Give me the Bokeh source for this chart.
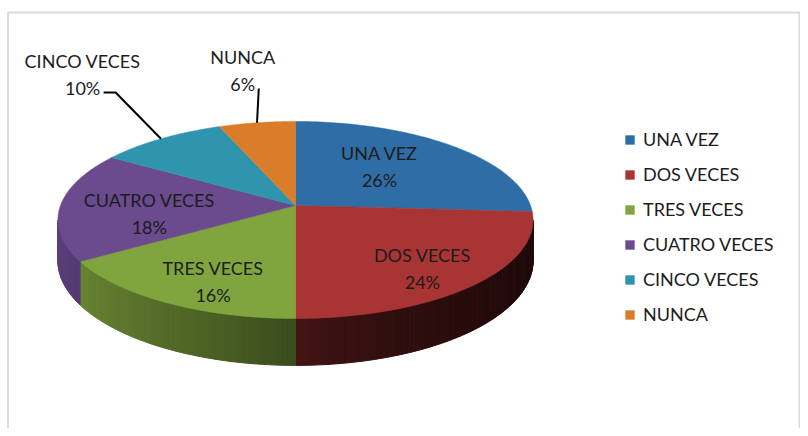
import numpy as np
from bokeh.plotting import figure
from bokeh.models import Range1d, Legend, LegendItem, BoxAnnotation
from bokeh.embed import file_html
from bokeh.resources import INLINE
from bokeh.core.properties import value

# ---- data ----
categories = ["UNA VEZ", "DOS VECES", "TRES VECES", "CUATRO VECES", "CINCO VECES", "NUNCA"]
percents = [26, 24, 16, 18, 10, 6]
colors = ["#2E6DA6", "#A83434", "#80A53E", "#6B4A8E", "#2F95AF", "#DA7D2A"]

# ---- layout / style (picture pixel space) ----
CX, CY = 295.0, 205.0      # pie centre
RX, RY = 235.0, 96.4       # radii of the tilted disc
K = 0.147                  # perspective strength
DEPTH = 40.0               # extrusion
FONT = "Lato"
FS = "18px"
TXT = "#1c1c1c"
label_radius = [0.574, 0.773, 0.773, 0.62, 2.04, 1.787]
label_shift = [-5.3, 3.6, -4.8, -7.7, 5.9, 1.7]
outside = [False, False, False, False, True, True]


def proj(theta_deg, r=1.0):
    t = np.radians(theta_deg)
    u = r * np.sin(t)
    v = -r * np.cos(t)
    d = 1 - K * v
    return CX + RX * u / d, CY + RY * v / d, d


def shade(hexc, f):
    h = hexc.lstrip("#")
    rgb = [int(h[i:i + 2], 16) for i in (0, 2, 4)]
    return "#%02x%02x%02x" % tuple(max(0, min(255, int(c * f))) for c in rgb)


total = float(sum(percents))
bounds = [0.0]
for pv in percents:
    bounds.append(bounds[-1] + 360.0 * pv / total)

p = figure(width=800, height=428, x_range=Range1d(0, 800), y_range=Range1d(428, 0),
           output_backend="svg", toolbar_location=None, min_border=0)
p.axis.visible = False
p.grid.visible = False
p.outline_line_color = None
p.background_fill_color = "white"

# ---- side (extrusion) ----
th_l = np.degrees(np.arccos(-K))          # right-most visible
th_r = 360 - th_l                          # left-most visible
sxs, sys_, scol = [], [], []
for i in range(len(percents)):
    a0, a1 = max(bounds[i], th_l), min(bounds[i + 1], th_r)
    if a1 <= a0:
        continue
    n = max(2, int((a1 - a0) / 1.0) + 1)
    ts = np.linspace(a0, a1, n)
    for j in range(n - 1):
        xa, ya, da = proj(ts[j])
        xb, yb, db = proj(ts[j + 1])
        u = np.sin(np.radians((ts[j] + ts[j + 1]) / 2))
        f = 0.46 - 0.4 * u if u < 0 else 0.44 - 0.25 * np.sqrt(u)
        sxs.append([xa, xb, xb, xa])
        sys_.append([ya, yb, yb + DEPTH / db, ya + DEPTH / da])
        scol.append(shade(colors[i], f))
p.patches(sxs, sys_, fill_color=scol, line_color=scol, line_width=1)

# ---- top face ----
txs, tys = [], []
for i in range(len(percents)):
    ts = np.linspace(bounds[i], bounds[i + 1], 80)
    x, y, _ = proj(ts)
    txs.append([CX] + list(x))
    tys.append([CY] + list(y))
top = p.patches(txs, tys, fill_color=colors, line_color=colors, line_width=0.5)

# ---- labels ----
lx, ly, lt = [], [], []
lead_x, lead_y = [], []
for i, cat in enumerate(categories):
    mid = (bounds[i] + bounds[i + 1]) / 2
    x, y, _ = proj(mid + label_shift[i], label_radius[i])
    lx.append(x)
    ly.append(y)
    lt.append(f"{cat}\n{percents[i]}%")
    if outside[i]:
        rx_, ry_, _ = proj(mid, 1.0)
        if i == 4:
            lead_x.append([x + 21, x + 33, rx_])
            lead_y.append([y + 18, y + 18, ry_])
        else:
            lead_x.append([x + 16, rx_])
            lead_y.append([y + 18, ry_])

p.text(lx, ly, text=lt, text_align="center", text_baseline="middle",
       text_font=value(FONT), text_font_size=FS, text_color=TXT, text_line_height=1.25)
p.multi_line(lead_x, lead_y, line_color="black", line_width=2)

# ---- frame border ----
p.add_layout(BoxAnnotation(left=7.5, right=799, top=12, bottom=445, fill_alpha=0,
                           line_color="#768d9b", line_width=2))

# ---- legend ----
items = [LegendItem(label=c, renderers=[top], index=i) for i, c in enumerate(categories)]
legend = Legend(items=items, location=(624, 103), glyph_width=11, glyph_height=11,
                label_standoff=8, label_height=21, spacing=13, padding=0, margin=0,
                label_text_font=FONT, label_text_font_size=FS, label_text_color=TXT,
                border_line_alpha=0, background_fill_alpha=0)
p.add_layout(legend)

open("out.html", "w").write(file_html(p, INLINE))
